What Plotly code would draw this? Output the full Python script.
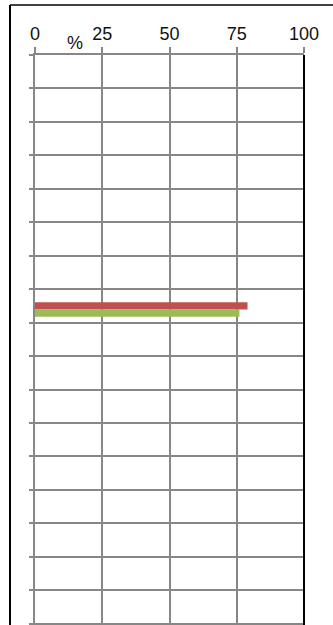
import plotly.graph_objects as go

# Seventeen category rows; only one row carries values.
categories = [f"Item {i}" for i in range(1, 18)]
series_names = ["Series 1", "Series 2", "Series 3"]
series_1 = [None] * 17
series_2 = [None] * 7 + [79] + [None] * 9
series_3 = [None] * 7 + [76] + [None] * 9
x_ticks = [0, 25, 50, 75, 100]

colors = ["#4F81BD", "#C0504D", "#9BBB59"]

W, H = 333, 625
L, R, T, B = 35, 29, 55, 0
pw, ph = W - L - R, H - T - B


def px_x(px):
    return (px - L) / pw


def px_y(py):
    return (H - B - py) / ph


positions = list(range(len(categories)))
fig = go.Figure()
for name, vals, col in zip(series_names, [series_1, series_2, series_3], colors):
    fig.add_trace(go.Bar(
        y=positions, x=vals, orientation="h", name=name,
        marker=dict(color=col, line=dict(width=0)),
        hovertext=categories,
    ))

grid = "#878787"
n = len(categories)
fig.update_layout(
    width=W, height=H,
    margin=dict(l=L, r=R, t=T, b=B, pad=0),
    paper_bgcolor="white", plot_bgcolor="white",
    barmode="group", bargap=0.355, bargroupgap=0,
    showlegend=False,
    font=dict(family="Liberation Sans, Arial, sans-serif", color="#111111"),
    xaxis=dict(
        side="top", range=[0, 100], tickvals=x_ticks,
        showgrid=True, gridcolor=grid, gridwidth=2,
        showline=True, linecolor=grid, linewidth=2,
        ticks="outside", ticklen=6, tickcolor=grid, tickwidth=2,
        tickfont=dict(size=18, color="#111111"), zeroline=False,
    ),
    yaxis=dict(
        range=[n - 0.5 + 0.04, -0.5],
        tickmode="linear", tick0=-0.5, dtick=1,
        showticklabels=False,
        showgrid=True, gridcolor=grid, gridwidth=2,
        showline=True, linecolor=grid, linewidth=2,
        ticks="outside", ticklen=4, tickcolor=grid, tickwidth=2,
        zeroline=False,
    ),
    shapes=[
        # right-hand border of the plot area
        dict(type="line", xref="paper", yref="paper",
             x0=1, x1=1, y0=px_y(H + 2), y1=1,
             line=dict(color="black", width=2)),
        # outer frame: top and left edges
        dict(type="line", xref="paper", yref="paper",
             x0=px_x(10), x1=px_x(W + 2), y0=px_y(5), y1=px_y(5),
             line=dict(color="black", width=1.5)),
        dict(type="line", xref="paper", yref="paper",
             x0=px_x(10), x1=px_x(10), y0=px_y(5), y1=px_y(H + 2),
             line=dict(color="black", width=2)),
    ],
    annotations=[
        dict(text="%", xref="paper", yref="paper",
             x=px_x(75), y=px_y(43), showarrow=False,
             xanchor="center", yanchor="middle",
             font=dict(size=18, color="#111111")),
    ],
)

fig.write_html("out.html")
